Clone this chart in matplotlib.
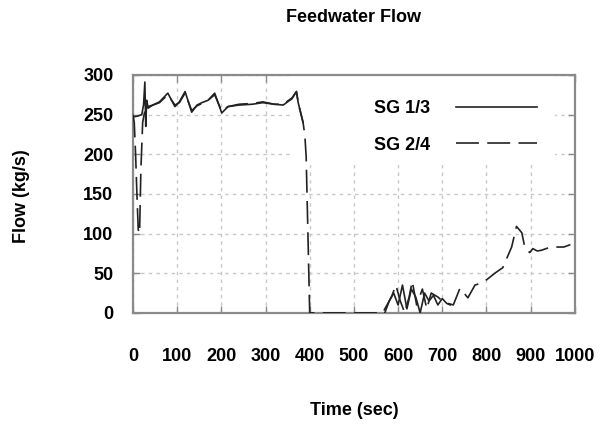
import numpy as np
import matplotlib
matplotlib.use("Agg")
import matplotlib.pyplot as plt
from matplotlib.patches import Rectangle

plt.rcParams['font.family'] = ['Liberation Sans', 'DejaVu Sans']
plt.rcParams['font.weight'] = 'bold'
plt.rcParams['lines.scale_dashes'] = False

nan = np.nan

# SG 1/3 feedwater flow (kg/s) vs time (sec); gap while the loop is isolated
t_sg13 = [0, 10, 20, 24, 27, 29, 31, 34, 45, 60, 79, 95, 105, 118, 133, 145, 156, 170, 185,
          201, 215, 240, 270, 294, 320, 340, 360, 370, 374, 385, 386,
          570, 580, 590, 600, 610, 620, 630, 640, 650, 660, 670, 680, 690, 700, 710, 718]
v_sg13 = [247, 248, 250, 262, 291, 235, 268, 260, 262, 266, 277, 260, 266, 279, 253, 262, 265, 268, 277,
          252, 260, 262, 263, 265, 263, 262, 270, 279, 265, 240, nan,
          0, 15, 25, 10, 35, 5, 30, 20, 0, 25, 15, 22, 10, 18, 12, 10]

# SG 2/4 feedwater flow
t_sg24 = [0, 3, 6, 9, 12, 15, 18, 22, 26, 30, 34, 45, 60, 79, 95, 105, 118, 133, 145, 156, 170, 185,
          201, 215, 240, 270, 294, 320, 340, 360, 370, 374, 385, 389, 392, 396, 400,
          565, 575, 585, 595, 605, 615, 625, 632, 642, 655, 665, 675, 690, 700, 712, 725,
          740, 758, 774, 790, 801, 819, 837, 857, 868, 880, 887, 898, 905, 915, 925, 940, 955, 975, 990]
v_sg24 = [250, 240, 200, 150, 105, 100, 180, 240, 252, 262, 258, 262, 265, 275, 262, 265, 277, 255, 261, 264, 268, 275,
          254, 260, 263, 264, 266, 263, 263, 271, 279, 265, 240, 224, 197, 100, 0,
          0, 10, 20, 35, 15, 0, 20, 40, 10, 30, 5, 25, 20, 15, 12, 10,
          31, 19, 35, 38, 42, 50, 57, 83, 109, 101, 82, 76, 81, 78, 79, 82, 83, 83, 86]

x_ticks = list(range(0, 1001, 100))
y_ticks = list(range(0, 301, 50))

fig = plt.figure(figsize=(6.07, 4.28), dpi=100)
ax = fig.add_axes([0.219, 0.269, 0.728, 0.556])

ax.plot(t_sg13, v_sg13, color='#222222', lw=1.2, label='SG 1/3', zorder=3)
ax.plot(t_sg24, v_sg24, color='#222222', lw=1.2, dashes=(16.5, 6), label='SG 2/4', zorder=3)

ax.set_xlim(0, 1000)
ax.set_ylim(0, 300)
ax.set_xticks(x_ticks)
ax.set_yticks(y_ticks)

ax.set_axisbelow(True)
ax.grid(True, color='#c8c8c8', lw=1.0, linestyle=(0, (2.5, 3)))
# blank area behind the key hides the grid there
ax.add_patch(Rectangle((357, 187), 598, 120, facecolor='white', edgecolor='none', zorder=1))

for s in ax.spines.values():
    s.set_color('#8a8a8a')
    s.set_linewidth(1.6)
ax.tick_params(direction='in', length=5, width=1, color='#8a8a8a',
               top=True, right=True, labelsize=13)
ax.tick_params(axis='x', pad=25)
ax.tick_params(axis='y', pad=14)

leg = ax.legend(loc='upper right', bbox_to_anchor=(0.952, 0.963), frameon=False,
                markerfirst=False, handlelength=4.5, handletextpad=1.45,
                labelspacing=1.1, prop={'weight': 'bold', 'size': 13})

fig.text(0.583, 0.958, 'Feedwater Flow', ha='center', va='center', fontsize=13, fontweight='bold')
fig.text(0.583, 0.042, 'Time (sec)', ha='center', va='center', fontsize=13, fontweight='bold')
fig.text(0.036, 0.542, 'Flow (kg/s)', ha='center', va='center', rotation=90,
         fontsize=13, fontweight='bold')

fig.savefig('out.png', dpi=100)
